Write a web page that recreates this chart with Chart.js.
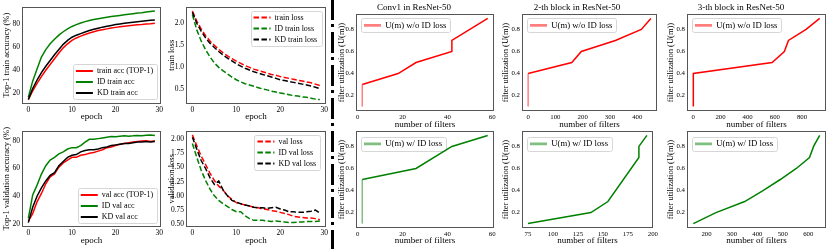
<!DOCTYPE html>
<html><head><meta charset="utf-8">
<script src="https://cdn.jsdelivr.net/npm/chart.js@4.4.1/dist/chart.umd.min.js"></script>
<style>
html,body{margin:0;padding:0;background:#fff;}
body{width:830px;height:249px;position:relative;overflow:hidden;}
canvas{position:absolute;}
#sep{position:absolute;left:331px;top:0;width:3px;height:249px;
background:repeating-linear-gradient(to bottom,#000 0 21px,transparent 21px 25px,#000 25px 28px,transparent 28px 33px);
background-position:0 -1px;}
</style></head><body>
<div id="sep"></div>
<script>
// ---------------- DATA ----------------
const epochs = [0,1,2,3,4,5,6,7,8,9,10,11,12,13,14,15,16,17,18,19,20,21,22,23,24,25,26,27,28,29];

const trainAcc   = [14,21.5,28,34,39.5,44.5,49.5,54.5,59,62.5,65.5,67.6,69.2,70.6,71.9,73,74,74.8,75.5,76.2,76.8,77.3,77.8,78.2,78.6,79,79.3,79.7,80,80.4];
const idTrainAcc = [16,30,40.5,51,57.5,62.5,66.5,70,73,75.5,77.6,79.2,80.6,81.8,82.8,83.6,84.3,85,85.6,86.2,86.7,87.2,87.7,88.2,88.7,89.2,89.6,90.1,90.6,91.1];
const kdTrainAcc = [14,23.5,31,37.5,43,48,53,57.5,62,65.5,68.2,70,71.4,72.8,74,75.1,76.1,77,77.8,78.5,79.2,79.8,80.3,80.8,81.3,81.7,82.1,82.5,82.9,83.2];

const trainLoss   = [2.28,2.05,1.87,1.72,1.6,1.5,1.41,1.33,1.26,1.2,1.14,1.09,1.04,1.0,0.96,0.93,0.9,0.87,0.84,0.82,0.79,0.77,0.75,0.73,0.71,0.69,0.67,0.65,0.62,0.59];
const idTrainLoss = [2.2,1.85,1.6,1.4,1.24,1.1,1.0,0.92,0.85,0.78,0.72,0.67,0.63,0.6,0.57,0.54,0.51,0.49,0.46,0.44,0.42,0.4,0.38,0.36,0.35,0.33,0.32,0.3,0.28,0.27];
const kdTrainLoss = [2.25,2.0,1.82,1.67,1.55,1.45,1.36,1.28,1.21,1.15,1.08,1.03,0.98,0.94,0.9,0.87,0.84,0.81,0.78,0.75,0.72,0.7,0.68,0.66,0.64,0.62,0.6,0.58,0.55,0.52];

const valAcc   = [22,27.5,36,42,49,54,56,61,64,66,68,68,69.5,70,71,71.5,72.5,73.5,75,75.5,76.5,77.5,78,78.5,79,79.5,79.8,80,79.5,80];
const idValAcc = [24,41,48,56,62,66,68,70.5,72,74,75,75,76.5,79,81,81,81.5,82,82.5,83,82.8,83.2,83.5,83.3,83.5,83.8,83.5,83.9,84.2,83.8];
const kdValAcc = [21,32,40,46,51,55,57,62,65,68,69.5,70,72,73,73.5,73.5,74,75,75.5,76.5,77,77.5,78,78,78.5,79,79,79.5,79,79.5];

const valLoss   = [2.07,1.88,1.7,1.55,1.4,1.27,1.17,1.1,1.0,0.94,0.88,0.86,0.84,0.82,0.8,0.79,0.77,0.76,0.74,0.73,0.71,0.69,0.67,0.64,0.63,0.62,0.61,0.61,0.6,0.58];
const idValLoss = [1.92,1.68,1.45,1.27,1.12,1.0,0.92,0.86,0.81,0.76,0.72,0.72,0.65,0.6,0.57,0.57,0.57,0.56,0.55,0.56,0.55,0.54,0.53,0.53,0.54,0.54,0.55,0.55,0.55,0.56];
const kdValLoss = [2.03,1.82,1.62,1.48,1.32,1.2,1.26,1.1,1.0,0.92,0.89,0.86,0.84,0.82,0.8,0.79,0.79,0.78,0.79,0.8,0.77,0.75,0.72,0.72,0.71,0.71,0.72,0.73,0.75,0.7];

const conv1WoFilters  = [2,2,18,26,42,42,58];
const conv1WoU        = [0.1,0.3,0.4,0.5,0.6,0.7,0.9];
const block2WoFilters = [0,0,160,195,320,415,450];
const block2WoU       = [0.1,0.4,0.5,0.6,0.7,0.8,0.9];
const block3WoFilters = [0,0,580,670,700,830,930];
const block3WoU       = [0.1,0.4,0.5,0.6,0.7,0.8,0.9];
const conv1WFilters   = [2,2,26,42,58];
const conv1WU         = [0.1,0.5,0.6,0.8,0.9];
const block2WFilters  = [75,138,155,186,186,194];
const block2WU        = [0.1,0.2,0.3,0.7,0.8,0.9];
const block3WFilters  = [148,237,350,422,490,553,605,621,645];
const block3WU        = [0.1,0.2,0.3,0.4,0.5,0.6,0.7,0.8,0.9];

const epochTicks = [0,10,20,30];
const accTicks = [20,40,60,80];
const trainLossTicks = [0.5,1.0,1.5,2.0];
const valLossTicks = [0.5,0.75,1.0,1.25,1.5,1.75,2.0];
const uTicks = [0.2,0.4,0.6,0.8];
const conv1Ticks = [0,20,40,60];
const block2WoTicks = [0,100,200,300,400];
const block3WoTicks = [0,200,400,600,800];
const block2WTicks = [75,100,125,150,175,200];
const block3WTicks = [200,300,400,500,600];

// ---------------- STYLE / HELPERS ----------------
const SERIF = "'Liberation Serif','Times New Roman',serif";
Chart.defaults.font.family = SERIF;
Chart.defaults.color = '#000';
const RED = '#ff0000', GREEN = '#008000', BLACK = '#000000';
const RED_L = 'rgba(255,0,0,0.5)', GREEN_L = 'rgba(0,128,0,0.5)';
const DASH = [5.5, 2.4];

function pts(xs, ys) { return xs.map((x, i) => ({x, y: ys[i]})); }
function padRange(arrs) {
  const all = [].concat(...arrs);
  const mn = Math.min(...all), mx = Math.max(...all), m = (mx - mn) * 0.05;
  return [mn - m, mx + m];
}

const framePlugin = {
  id: 'frame',
  beforeDraw(chart, args, o) {
    const lg = chart.legend, ca = chart.chartArea;
    if (!lg || !o.corner) return;
    const pad = lg.options.labels.padding;
    const h = pad + lg.columnSizes[0].height;
    const w = lg.width + (o.extraW || 0);
    const left = o.corner[1] === 'r' ? ca.right - w - o.mx : ca.left + o.mx;
    const top = o.corner[0] === 'b' ? ca.bottom - h - o.my : ca.top + o.my;
    Object.assign(lg, {left, top, right: left + w, bottom: top + h + 0.05, width: w, height: h});
    const ctx = chart.ctx;
    ctx.save();
    ctx.beginPath();
    ctx.roundRect(Math.round(left) + 0.5, Math.round(top) + 0.5, Math.round(w) - 1, Math.round(h) - 1, 2);
    ctx.fillStyle = 'rgba(255,255,255,0.85)'; ctx.fill();
    ctx.strokeStyle = '#d6d6d6'; ctx.lineWidth = 1; ctx.stroke();
    ctx.restore();
  },
  afterDraw(chart) {
    const ca = chart.chartArea, ctx = chart.ctx;
    ctx.save();
    ctx.strokeStyle = '#555'; ctx.lineWidth = 1;
    const l = Math.round(ca.left), t = Math.round(ca.top), r = Math.round(ca.right), b = Math.round(ca.bottom);
    ctx.strokeRect(l + 0.5, t + 0.5, r - l - 1, b - t - 1);
    ctx.restore();
  }
};

function panel(cfg) {
  const c = document.createElement('canvas');
  const w = cfg.cr - cfg.cl, h = cfg.cb - cfg.ct;
  c.width = w; c.height = h;
  Object.assign(c.style, {left: cfg.cl + 'px', top: cfg.ct + 'px', width: w + 'px', height: h + 'px'});
  document.body.appendChild(c);
  const titleSize = 9, titleLH = titleSize * 1.2;
  const topOff = cfg.T - cfg.ct;
  const yTitleSize = 8.5, xTitleSize = 9;
  const xr = padRange(cfg.datasets.map(d => d.data.map(p => p.x)));
  const yr = padRange(cfg.datasets.map(d => d.data.map(p => p.y)));
  const legendLW = cfg.legendLW, legendColors = cfg.legendColors;
  new Chart(c, {
    type: 'line',
    data: {datasets: cfg.datasets},
    options: {
      responsive: false, animation: false, devicePixelRatio: 1, events: [],
      layout: {padding: {left: 0, right: cfg.cr - cfg.R, top: cfg.title ? 0 : topOff, bottom: 0}},
      elements: {point: {radius: 0}, line: {tension: 0, borderCapStyle: 'butt'}},
      scales: {
        x: {
          type: 'linear', min: xr[0], max: xr[1],
          afterBuildTicks: s => { s.ticks = cfg.xTicks.map(v => ({value: v})); },
          afterFit: s => { s.height = cfg.cb - cfg.B; },
          grid: {display: false, drawTicks: false}, border: {display: false},
          ticks: {font: {size: cfg.tickSize}, padding: 2, maxRotation: 0, autoSkip: false,
                  callback: v => cfg.xFmt ? cfg.xFmt(v) : String(v)},
          title: {display: true, text: cfg.xTitle, font: {size: xTitleSize},
                  padding: {top: 0, bottom: cfg.cb - cfg.xTitleY - xTitleSize * 0.6}}
        },
        y: {
          type: 'linear', min: yr[0], max: yr[1],
          afterBuildTicks: s => { s.ticks = cfg.yTicks.map(v => ({value: v})); },
          afterFit: s => { s.width = cfg.L - cfg.cl; },
          grid: {display: false, drawTicks: false}, border: {display: false},
          ticks: {font: {size: cfg.tickSize}, padding: 2, autoSkip: false,
                  callback: v => cfg.yFmt(v)},
          title: {display: true, text: cfg.yTitle, font: {size: yTitleSize},
                  padding: {top: cfg.yTitleX - cfg.cl - yTitleSize * 0.6, bottom: 0}}
        }
      },
      plugins: {
        title: cfg.title ? {display: true, text: cfg.title, color: '#000',
                 font: {size: titleSize, weight: 'normal'},
                 padding: {top: 2, bottom: topOff - 2 - titleLH}} : {display: false},
        tooltip: {enabled: false},
        legend: {
          display: true, position: 'chartArea', align: 'start',
          labels: {
            usePointStyle: true, pointStyle: 'line', pointStyleWidth: 17, boxWidth: 17,
            padding: 3, font: {size: cfg.legendSize}, color: '#000',
            sort: (a, b) => a.datasetIndex - b.datasetIndex,
            generateLabels: chart => Chart.defaults.plugins.legend.labels.generateLabels(chart).map(l => {
              const ds = chart.data.datasets[l.datasetIndex];
              l.lineWidth = legendLW;
              l.lineDash = ds.borderDash || [];
              l.strokeStyle = legendColors ? legendColors[l.datasetIndex] : ds.borderColor;
              return l;
            })
          }
        },
        frame: Object.assign({extraW: -5}, cfg.legendPos)
      }
    },
    plugins: [framePlugin]
  });
}

function lineDS(label, xs, ys, color, dashed, order) {
  return {label, data: pts(xs, ys), borderColor: color, backgroundColor: color,
          borderWidth: 1.5, borderDash: dashed ? DASH : [], fill: false, order};
}
function uDS(label, xs, ys, color, light, lightFirst) {
  return {label, data: pts(xs, ys), borderColor: color, backgroundColor: color,
          borderWidth: 1.5, fill: false,
          segment: {borderColor: ctx => (lightFirst && ctx.p0DataIndex === 0 && ctx.p0.parsed.x === ctx.p1.parsed.x) ? light : undefined}};
}

const f0 = v => String(v);
const f1 = v => v.toFixed(1);
const f2 = v => v.toFixed(2);

// ---------------- LEFT PANELS ----------------
const leftTop = {ct: 0, cb: 124, T: 3, B: 104, xTitleY: 117};
const leftBot = {ct: 124, cb: 249, T: 127, B: 227, xTitleY: 240.5};
const col1 = {cl: 0, cr: 165, L: 22, R: 162, yTitleX: 6.5};
const col2 = {cl: 165, cr: 330, L: 186, R: 328, yTitleX: 171.5};
const leftCommon = {tickSize: 7.5, legendSize: 8, legendLW: 2, xTicks: epochTicks, xTitle: 'epoch', xFmt: f0};

panel(Object.assign({}, leftTop, col1, leftCommon, {
  yTicks: accTicks, yFmt: f0, yTitle: 'Top-1 train accuracy (%)',
  legendPos: {corner: 'br', mx: 3, my: 4},
  datasets: [
    lineDS('train acc (TOP-1)', epochs, trainAcc, RED, false, 3),
    lineDS('ID train acc', epochs, idTrainAcc, GREEN, false, 2),
    lineDS('KD train acc', epochs, kdTrainAcc, BLACK, false, 1)
  ]
}));
panel(Object.assign({}, leftTop, col2, leftCommon, {
  yTicks: trainLossTicks, yFmt: f1, yTitle: 'train loss',
  legendPos: {corner: 'tr', mx: 4, my: 4},
  datasets: [
    lineDS('train loss', epochs, trainLoss, RED, true, 3),
    lineDS('ID train loss', epochs, idTrainLoss, GREEN, true, 2),
    lineDS('KD train loss', epochs, kdTrainLoss, BLACK, true, 1)
  ]
}));
panel(Object.assign({}, leftBot, col1, leftCommon, {
  yTicks: accTicks, yFmt: f0, yTitle: 'Top-1 validation accuracy (%)',
  legendPos: {corner: 'br', mx: 3, my: 3},
  datasets: [
    lineDS('val acc (TOP-1)', epochs, valAcc, RED, false, 3),
    lineDS('ID val acc', epochs, idValAcc, GREEN, false, 2),
    lineDS('KD val acc', epochs, kdValAcc, BLACK, false, 1)
  ]
}));
panel(Object.assign({}, leftBot, col2, leftCommon, {
  yTicks: valLossTicks, yFmt: f2, yTitle: 'validation loss',
  legendPos: {corner: 'tr', mx: 5, my: 4},
  datasets: [
    lineDS('val loss', epochs, valLoss, RED, true, 3),
    lineDS('ID val loss', epochs, idValLoss, GREEN, true, 2),
    lineDS('KD val loss', epochs, kdValLoss, BLACK, true, 1)
  ]
}));

// ---------------- RIGHT PANELS ----------------
const rightTop = {ct: 0, cb: 131, T: 14, B: 111, xTitleY: 125};
const rightBot = {ct: 124, cb: 249, T: 131, B: 228, xTitleY: 241};
const c5 = {cl: 334, cr: 498, L: 356, R: 494, yTitleX: 341.5};
const c6 = {cl: 497, cr: 660, L: 522, R: 657, yTitleX: 505.7};
const c7 = {cl: 656, cr: 829, L: 687, R: 826, yTitleX: 670.7};
const rightCommon = {tickSize: 6.8, legendSize: 8.7, legendLW: 2.6, yTicks: uTicks, yFmt: f1,
  yTitle: 'filter utilization (U(m))', xTitle: 'number of filters', xFmt: f0};
const legTL = {corner: 'tl', mx: 5, my: 4};
const legTL2 = {corner: 'tl', mx: 5, my: 5.5};

panel(Object.assign({}, rightTop, c5, rightCommon, {
  title: 'Conv1 in ResNet-50', xTicks: conv1Ticks, legendPos: legTL, legendColors: [RED_L],
  datasets: [uDS('U(m) w/o ID loss', conv1WoFilters, conv1WoU, RED, RED_L, true)]
}));
panel(Object.assign({}, rightTop, c6, rightCommon, {
  title: '2-th block in ResNet-50', xTicks: block2WoTicks, legendPos: legTL, legendColors: [RED_L],
  datasets: [uDS('U(m) w/o ID loss', block2WoFilters, block2WoU, RED, RED_L, true)]
}));
panel(Object.assign({}, rightTop, c7, rightCommon, {
  title: '3-th block in ResNet-50', xTicks: block3WoTicks, legendPos: legTL, legendColors: [RED_L],
  datasets: [uDS('U(m) w/o ID loss', block3WoFilters, block3WoU, RED, RED_L, false)]
}));
panel(Object.assign({}, rightBot, c5, rightCommon, {
  xTicks: conv1Ticks, legendPos: legTL2, legendColors: [GREEN_L],
  datasets: [uDS('U(m) w/ ID loss', conv1WFilters, conv1WU, GREEN, GREEN_L, true)]
}));
panel(Object.assign({}, rightBot, c6, rightCommon, {
  xTicks: block2WTicks, legendPos: legTL2, legendColors: [GREEN_L],
  datasets: [uDS('U(m) w/ ID loss', block2WFilters, block2WU, GREEN, GREEN_L, true)]
}));
panel(Object.assign({}, rightBot, c7, rightCommon, {
  xTicks: block3WTicks, legendPos: legTL2, legendColors: [GREEN_L],
  datasets: [uDS('U(m) w/ ID loss', block3WFilters, block3WU, GREEN, GREEN_L, true)]
}));
</script>
</body></html>
